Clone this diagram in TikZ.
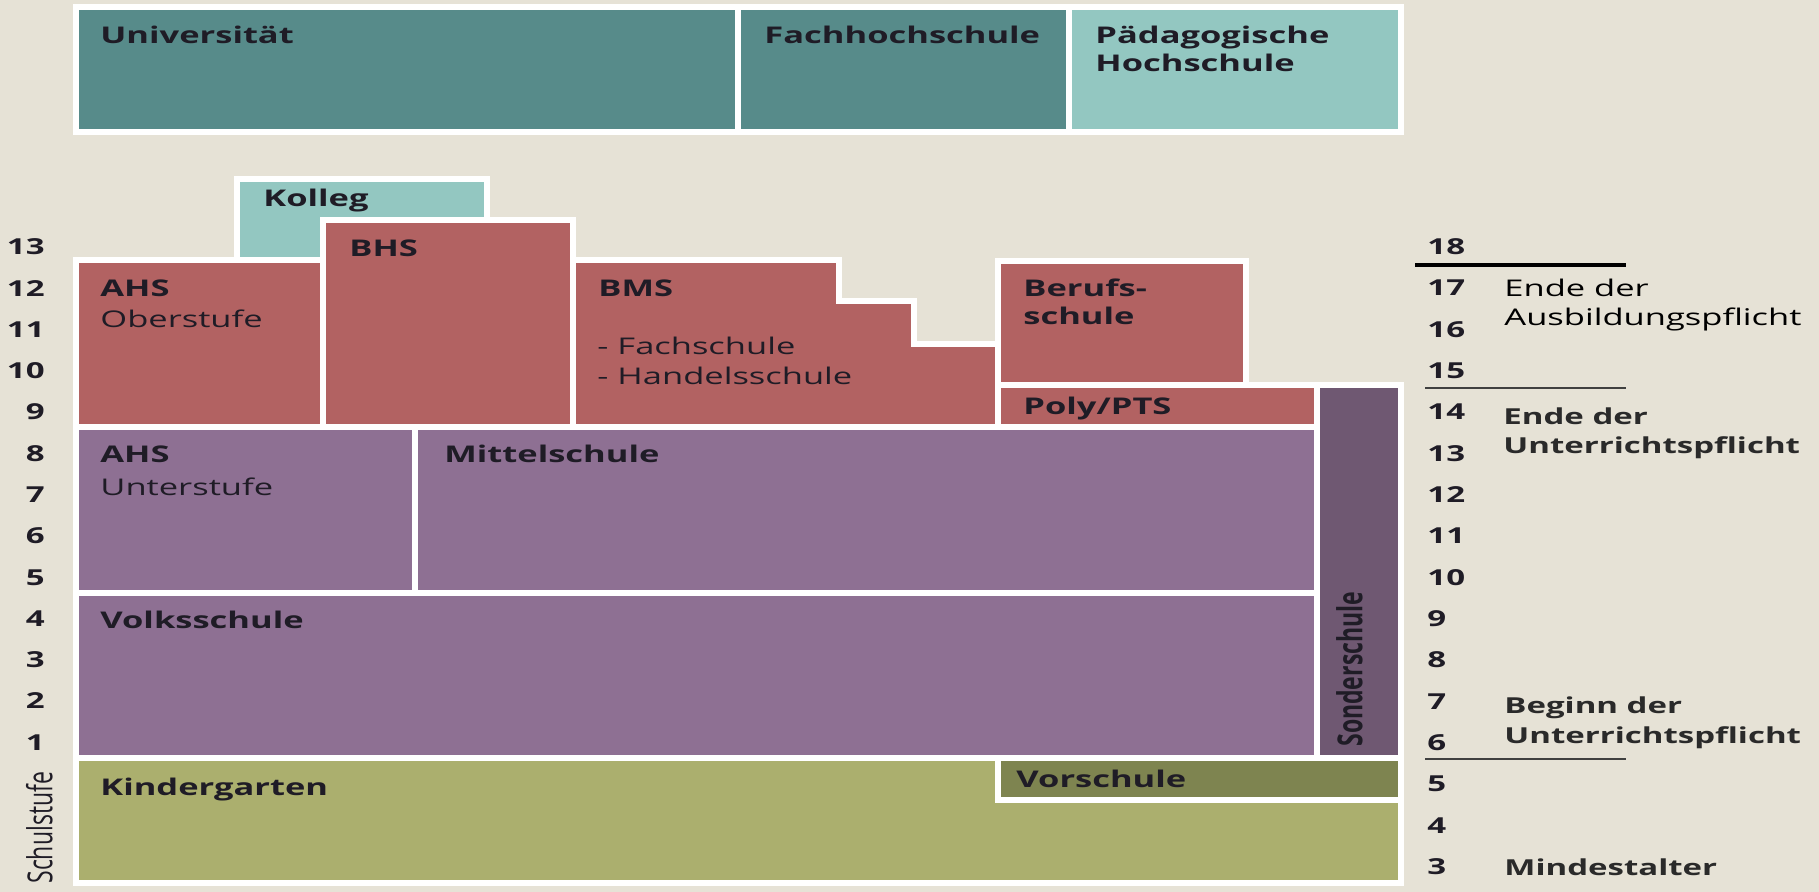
\documentclass[tikz,border=0pt]{standalone}
\usepackage{fontspec}
\setmainfont{Open Sans}[FakeStretch=1.5]
\newfontfamily\rotfont{Open Sans}
\definecolor{bg}{HTML}{E6E2D6}
\definecolor{tealD}{HTML}{578B8A}
\definecolor{tealL}{HTML}{93C7C1}
\definecolor{redB}{HTML}{B26262}
\definecolor{purB}{HTML}{8E7093}
\definecolor{purD}{HTML}{6F5872}
\definecolor{grnB}{HTML}{ABAF6E}
\definecolor{grnD}{HTML}{7E8450}
\definecolor{txt}{HTML}{1F1C26}
\definecolor{txtg}{HTML}{2A2A2A}
\begin{document}
\begin{tikzpicture}[x=0.5pt,y=-0.5pt,
  box/.style={draw=white, line width=3pt, line join=miter},
  ttl/.style={anchor=base west, inner sep=0, text=txt, font=\bfseries\fontsize{11.5}{14}\selectfont},
  sub/.style={anchor=base west, inner sep=0, text=txt, font=\fontsize{11.5}{14}\selectfont},
  numl/.style={anchor=base east, inner sep=0, text=txt, font=\bfseries\fontsize{11}{13}\selectfont},
  numr/.style={anchor=base west, inner sep=0, text=txt, font=\bfseries\fontsize{11}{13}\selectfont},
  rlab/.style={anchor=base west, inner sep=0, text=txtg, font=\bfseries\fontsize{11}{14}\selectfont},
  rlabn/.style={anchor=base west, inner sep=0, text=black, font=\fontsize{11.5}{14}\selectfont},
  rule/.style={line width=1.6pt, draw=black},
  ruleg/.style={line width=1.3pt, draw=black!75}]
\fill[bg] (0,0) rectangle (1819,892);
\useasboundingbox (0,0) rectangle (1819,892);

% top row
\path[box, fill=tealD] (76,7) rectangle (738,132);
\path[box, fill=tealD] (738,7) rectangle (1069,132);
\path[box, fill=tealL] (1069,7) rectangle (1401,132);

% upper secondary
\path[box, fill=tealL] (237,179) rectangle (487,260);
\path[box, fill=redB] (76,260) rectangle (323,427);
\path[box, fill=redB] (323,220) rectangle (572.5,427);
\path[box, fill=redB] (572.5,260) -- (839,260) -- (839,301) -- (914,301) -- (914,344) -- (998,344) -- (998,427) -- (572.5,427) -- cycle;
\path[box, fill=redB] (998,261) rectangle (1246,385);
\path[box, fill=redB] (998,385) rectangle (1317,427);
\path[box, fill=purD] (1317,385) rectangle (1401,758);

% lower secondary / primary
\path[box, fill=purB] (76,427) rectangle (414.5,592.5);
\path[box, fill=purB] (414.5,427) rectangle (1317,592.5);
\path[box, fill=purB] (76,592.5) rectangle (1317,758);
\path[box, fill=grnB] (76,758) rectangle (1401,883);
\path[box, fill=grnD] (998,758) rectangle (1401,800);

% labels in boxes
\node[ttl] (uni) at (100,44) {Universität};
\node[ttl] (fh) at (764,44) {Fachhochschule};
\node[ttl] (ph1) at (1095,44) {Pädagogische};
\node[ttl] (ph2) at (1095,72) {Hochschule};
\node[ttl] (kolleg) at (263,207) {Kolleg};
\node[ttl] (bhs) at (349,257) {BHS};
\node[ttl] (ahso) at (100,297) {AHS};
\node[sub] (ahso2) at (100,328) {Oberstufe};
\node[ttl] (bms) at (598,297) {BMS};
\node[sub] (bms2) at (597,355) {- Fachschule};
\node[sub] (bms3) at (597,385) {- Handelsschule};
\node[ttl] (bs1) at (1023,297) {Berufs-};
\node[ttl] (bs2) at (1023,325) {schule};
\node[ttl] (poly) at (1023,415) {Poly/PTS};
\node[ttl] (ahsu) at (100,463) {AHS};
\node[sub] (ahsu2) at (100,495) {Unterstufe};
\node[ttl] (ms) at (444,463) {Mittelschule};
\node[ttl] (vs) at (100,628) {Volksschule};
\node[ttl] (kg) at (100,795) {Kindergarten};
\node[ttl] (vor) at (1016,787) {Vorschule};
\node[anchor=south east, inner sep=0, text=txt] (sonder) at (1363,747)
  {\scalebox{1.5}[1]{\rotatebox{90}{\rotfont\bfseries\fontsize{11.5}{14}\selectfont Sonderschule}}};
\node[anchor=south east, inner sep=0, text=txt] (stufe) at (53,884)
  {\scalebox{1.5}[1]{\rotatebox{90}{\rotfont\fontsize{11.5}{14}\selectfont Schulstufe}}};

% left scale
\foreach \n in {1,...,13} {
  \node[numl] (l\n) at (45,{247+(13-\n)*41.25+8}) {\n};
}
% right scale
\foreach \n in {3,...,18} {
  \node[numr] (r\n) at (1427,{246.5+(18-\n)*41.33+8}) {\n};
}

% rules
\coordinate (a1) at (1415,265); \coordinate (a2) at (1626,265);
\coordinate (b1) at (1425,388); \coordinate (b2) at (1626,388);
\coordinate (c1) at (1425,759); \coordinate (c2) at (1626,759);
\draw[rule] (a1) -- (a2);
\draw[ruleg] (b1) -- (b2);
\draw[ruleg] (c1) -- (c2);

% right labels
\node[rlabn] (e1) at (1504,297) {Ende der};
\node[rlabn] (e2) at (1504,326) {Ausbildungspflicht};
\node[rlab] (u1) at (1503,425) {Ende der};
\node[rlab] (u2) at (1503,454) {Unterrichtspflicht};
\node[rlab] (b1t) at (1504,713) {Beginn der};
\node[rlab] (b2t) at (1504,743) {Unterrichtspflicht};
\node[rlab] (mind) at (1504,875) {Mindestalter};
\end{tikzpicture}
\end{document}
